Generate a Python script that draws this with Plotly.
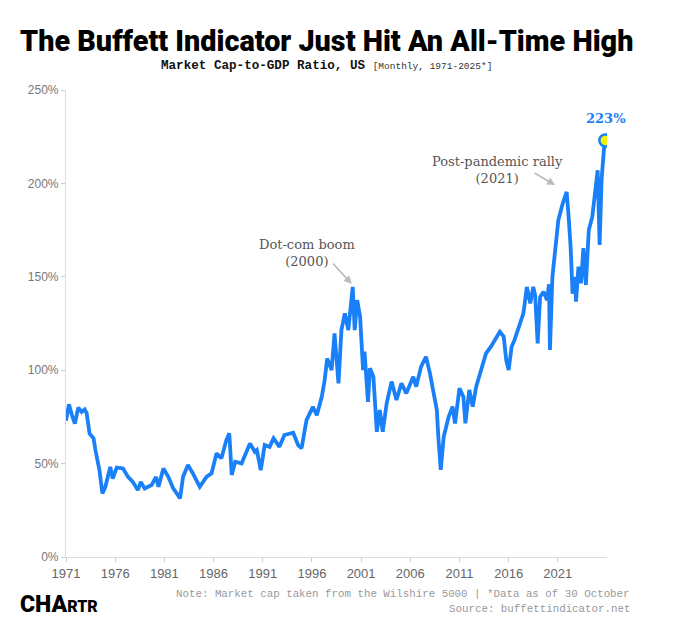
import plotly.graph_objects as go

# Buffett indicator (market cap / GDP, %)
years = [1971.0, 1971.3, 1971.6, 1971.9, 1972.25, 1972.6, 1972.9, 1973.1, 1973.4, 1973.8,
         1974.0, 1974.4, 1974.7, 1975.0, 1975.5, 1975.75, 1976.15, 1976.8, 1977.3, 1977.8,
         1978.3, 1978.6, 1979.0, 1979.7, 1980.15, 1980.4, 1980.9, 1981.4, 1981.9, 1982.6,
         1982.9, 1983.4, 1983.9, 1984.6, 1985.3, 1985.8, 1986.3, 1986.8, 1987.3, 1987.6,
         1987.85, 1988.2, 1988.85, 1989.7, 1990.2, 1990.4, 1990.8, 1991.2, 1991.7, 1992.1,
         1992.7, 1993.2, 1994.1, 1994.6, 1994.95, 1995.45, 1996.1, 1996.5, 1997.0, 1997.3,
         1997.55, 1998.0, 1998.3, 1998.7, 1999.0, 1999.35, 1999.7, 2000.15, 2000.35, 2000.6,
         2000.9, 2001.05, 2001.2, 2001.35, 2001.55, 2001.7, 2001.9, 2002.25, 2002.6, 2002.9,
         2003.2, 2003.6, 2004.1, 2004.6, 2005.1, 2005.6, 2006.3, 2006.6, 2007.1, 2007.6,
         2008.0, 2008.35, 2008.7, 2008.85, 2009.1, 2009.4, 2009.9, 2010.3, 2010.55, 2011.0,
         2011.4, 2011.6, 2012.0, 2012.35, 2012.7, 2013.2, 2013.7, 2014.2, 2014.7, 2015.1,
         2015.5, 2015.75, 2016.0, 2016.3, 2016.6, 2017.0, 2017.5, 2017.85, 2018.2, 2018.5,
         2018.7, 2018.95, 2019.2, 2019.55, 2019.9, 2020.1, 2020.2, 2020.45, 2020.8, 2021.05,
         2021.5, 2021.9, 2022.1, 2022.3, 2022.5, 2022.75, 2022.85, 2023.1, 2023.35, 2023.6,
         2023.85, 2024.15, 2024.5, 2024.85, 2025.05, 2025.25, 2025.45, 2025.7, 2025.83]
ratio = [73, 81.7, 76, 71.4, 80, 77.6, 79, 77, 66, 63.5,
         57, 46.5, 34, 37.6, 48.2, 42, 47.9, 47.4, 42.9, 40.2,
         35.8, 40.2, 36.7, 38.5, 42.9, 37.6, 47.4, 42.9, 36.7, 31.4,
         43, 49.2, 44.8, 37.6, 43, 44.8, 55.5, 52.8, 62.6, 66.2,
         43.9, 51, 50.1, 60.8, 56.3, 57.2, 46.5, 59.9, 59, 63.5,
         59, 65.3, 66.5, 59.9, 58.2, 73.3, 80.4, 75.9, 85.8, 94.7,
         106.3, 100, 119.7, 92.9, 121.5, 130.4, 121.5, 144.6, 121.5, 137.5,
         128.6, 116, 100, 110, 92, 83, 101, 96.5, 67, 78.7,
         67, 82.3, 93.9, 84, 93, 87.6, 96.5, 91.2, 101.9, 107.2,
         98.3, 87.6, 78.7, 64.4, 46.6, 64.4, 75.1, 80.5, 71.5, 90.3,
         85.8, 71.6, 89.4, 80.5, 91.2, 100.1, 109, 112.6, 117.1, 120.6,
         118, 105.5, 100.1, 112.6, 116.2, 123.3, 130.4, 144.6, 135.8, 144.6,
         140, 114.3, 139.3, 142, 137.5, 146, 110.8, 150, 166, 180.2,
         189.3, 195.5, 182, 166, 141, 150, 136.7, 155.4, 146.5, 165.3,
         145.6, 175, 182, 198, 207, 167, 202, 219, 223]

tick_years = [1971, 1976, 1981, 1986, 1991, 1996, 2001, 2006, 2011, 2016, 2021]
tick_pcts = [0, 50, 100, 150, 200, 250]

BLUE = "#1a80f8"
GRAY_TXT = "#666666"
SERIF = "DejaVu Serif, Georgia, serif"
MONO = "Liberation Mono, DejaVu Sans Mono, monospace"
HEAVY = "Roboto, Liberation Sans, Arial, sans-serif"

fig = go.Figure()
fig.add_trace(go.Scatter(x=years, y=ratio, mode="lines",
                         line=dict(color=BLUE, width=3.8), hoverinfo="skip"))
fig.add_trace(go.Scatter(x=[years[-1]], y=[ratio[-1]], mode="markers",
                         marker=dict(color="#f2f20a", size=12,
                                     line=dict(color=BLUE, width=2.5)),
                         hoverinfo="skip"))

# page body adds ~8px offset; figure is shrunk and margins shifted to compensate
fig.update_layout(
    width=688, height=618,
    margin=dict(l=58, r=89, t=82, b=69),
    paper_bgcolor="white", plot_bgcolor="white",
    showlegend=False,
    font=dict(family="Liberation Sans, Arial, sans-serif", color=GRAY_TXT),
    xaxis=dict(range=[1971, 2026], tickvals=tick_years,
               ticktext=[str(t) for t in tick_years],
               showgrid=False, zeroline=False, showline=True,
               linecolor="#dddddd", linewidth=1.2,
               ticks="outside", ticklen=4, tickcolor="#cccccc",
               tickfont=dict(size=13, color=GRAY_TXT)),
    yaxis=dict(range=[0, 250], tickvals=tick_pcts,
               ticktext=[f"{t}%" for t in tick_pcts],
               showgrid=False, zeroline=False, showline=True,
               linecolor="#dddddd", linewidth=1.2,
               ticks="outside", ticklen=4, tickcolor="#cccccc",
               tickfont=dict(size=12, color="#777777")),
)

ann = []
# Title and subtitle
ann.append(dict(text="The Buffett Indicator Just Hit An All-Time High",
                xref="paper", yref="paper", x=0.4806, y=1.105,
                xanchor="center", yanchor="middle", showarrow=False,
                font=dict(family=HEAVY, size=28.8, weight=900, color="#000000")))
ann.append(dict(text="<b>Market Cap-to-GDP Ratio, US</b> "
                     "<span style='font-size:9.5px;color:#333'>[Monthly, 1971-2025*]</span>",
                xref="paper", yref="paper", x=0.4806, y=1.051,
                xanchor="center", yanchor="middle", showarrow=False,
                font=dict(family=MONO, size=12.6, color="#111111")))
# Callouts
ann.append(dict(text="Dot-com boom<br>(2000)", x=1995.5, y=162.7,
                xanchor="center", yanchor="middle", showarrow=False,
                font=dict(family=SERIF, size=13, color="#555555")))
ann.append(dict(text="", x=2000.05, y=146.1, ax=-20, ay=-22,
                showarrow=True, arrowhead=2, arrowsize=1, arrowwidth=1.6,
                arrowcolor="#bbbbbb"))
ann.append(dict(text="Post-pandemic rally<br>(2021)", x=2014.82, y=207.4,
                xanchor="center", yanchor="middle", showarrow=False,
                font=dict(family=SERIF, size=13, color="#555555")))
ann.append(dict(text="", x=2020.72, y=199.1, ax=-22, ay=-13,
                showarrow=True, arrowhead=2, arrowsize=1, arrowwidth=1.6,
                arrowcolor="#bbbbbb"))
ann.append(dict(text=f"<b>{ratio[-1]:.0f}%</b>", x=2025.9, y=234.5,
                xanchor="center", yanchor="middle", showarrow=False,
                font=dict(family=SERIF, size=13, color=BLUE)))
# Footer
ann.append(dict(text="Note: Market cap taken from the Wilshire 5000 | *Data as of 30 October",
                xref="paper", yref="paper", x=(632 - 66) / 541, y=(557 - 594) / 467,
                xanchor="right", yanchor="middle", showarrow=False,
                font=dict(family=MONO, size=10.8, color="#999999")))
ann.append(dict(text="Source: buffettindicator.net",
                xref="paper", yref="paper", x=(632 - 66) / 541, y=(557 - 609) / 467,
                xanchor="right", yanchor="middle", showarrow=False,
                font=dict(family=MONO, size=10.8, color="#999999")))
ann.append(dict(text="CHA<span style='font-size:16px'>RTR</span>",
                xref="paper", yref="paper", x=(18 - 66) / 541, y=(557 - 604) / 467,
                xanchor="left", yanchor="middle", showarrow=False,
                font=dict(family=HEAVY, size=23, weight=900, color="#000000")))
fig.update_layout(annotations=ann)

fig.write_html("out.html")
